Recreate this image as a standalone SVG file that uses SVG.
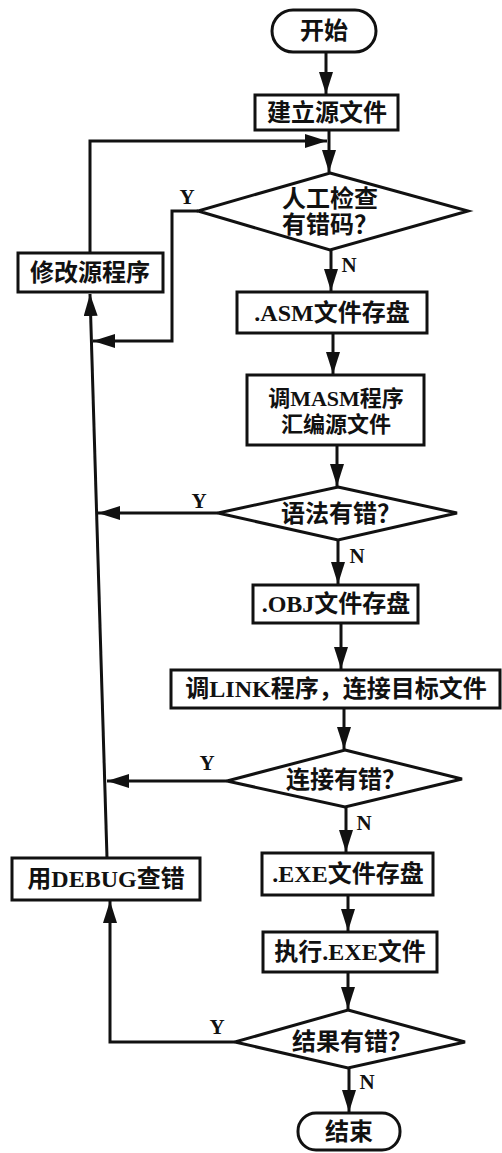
<svg xmlns="http://www.w3.org/2000/svg" width="502" height="1153" viewBox="0 0 502 1153">
<style>
.s{fill:#fff;stroke:#111;stroke-width:3}
.t{font-family:"Liberation Serif","Noto Sans CJK SC",serif;font-weight:700;font-size:24px;fill:#111;text-anchor:middle;dominant-baseline:central}
.m{font-size:22px}
.l{font-family:"Liberation Serif",serif;font-weight:700;font-size:21px;fill:#111;text-anchor:middle;dominant-baseline:central}
.c{fill:none;stroke:#111;stroke-width:3}
</style>
<defs>
<marker id="a" markerUnits="userSpaceOnUse" markerWidth="24" markerHeight="14" refX="22" refY="7" orient="auto">
<path d="M0,0 L22,7 L0,14 z" fill="#111"/>
</marker>
</defs>
<g id="connectors">
<line class="c" x1="326" y1="52" x2="326" y2="94" marker-end="url(#a)"/>
<line class="c" x1="329" y1="130" x2="329" y2="172" marker-end="url(#a)"/>
<polyline class="c" points="90,253 90,141 327,141" marker-end="url(#a)"/>
<polyline class="c" points="198,211 172,211 172,341 93,341" marker-end="url(#a)"/>
<line class="c" x1="331" y1="250" x2="331" y2="291" marker-end="url(#a)"/>
<line class="c" x1="333" y1="333" x2="333" y2="374" marker-end="url(#a)"/>
<line class="c" x1="337" y1="445" x2="337" y2="486" marker-end="url(#a)"/>
<line class="c" x1="338" y1="540" x2="338" y2="584" marker-end="url(#a)"/>
<line class="c" x1="341" y1="623" x2="341" y2="669" marker-end="url(#a)"/>
<line class="c" x1="344" y1="708" x2="344" y2="749" marker-end="url(#a)"/>
<line class="c" x1="346" y1="807" x2="346" y2="852" marker-end="url(#a)"/>
<line class="c" x1="348" y1="895" x2="348" y2="931" marker-end="url(#a)"/>
<line class="c" x1="348" y1="972" x2="348" y2="1009" marker-end="url(#a)"/>
<line class="c" x1="349" y1="1068" x2="349" y2="1112" marker-end="url(#a)"/>
<line class="c" x1="107" y1="858" x2="90" y2="294" marker-end="url(#a)"/>
<line class="c" x1="218" y1="513" x2="98" y2="513" marker-end="url(#a)"/>
<line class="c" x1="227" y1="781" x2="107" y2="781" marker-end="url(#a)"/>
<polyline class="c" points="235,1042 110,1042 110,901" marker-end="url(#a)"/>
<text class="l" x="187" y="197">Y</text>
<text class="l" x="349" y="265">N</text>
<text class="l" x="199" y="501">Y</text>
<text class="l" x="357" y="556">N</text>
<text class="l" x="207" y="763">Y</text>
<text class="l" x="364" y="823">N</text>
<text class="l" x="217" y="1027">Y</text>
<text class="l" x="367" y="1082">N</text>
</g>
<g id="start"><rect class="s" x="272" y="10" width="104" height="42" rx="21"/><text class="t" x="324" y="31">开始</text></g>
<g id="create"><rect class="s" x="255" y="95" width="143" height="35"/><text class="t" x="327" y="113">建立源文件</text></g>
<g id="check"><polygon class="s" points="330,173 468,211 330,250 198,211"/><text class="t" x="330" y="199">人工检查</text><text class="t" x="330" y="225">有错码？</text></g>
<g id="modify"><rect class="s" x="18" y="253" width="145" height="39"/><text class="t" x="90" y="273">修改源程序</text></g>
<g id="asm"><rect class="s" x="237" y="292" width="190" height="41"/><text class="t" x="332" y="313">.ASM文件存盘</text></g>
<g id="masm"><rect class="s" x="247" y="375" width="177" height="70"/><text class="t m" x="336" y="398">调MASM程序</text><text class="t m" x="336" y="424">汇编源文件</text></g>
<g id="syntax"><polygon class="s" points="338,487 457,513 338,540 218,513"/><text class="t" x="341" y="514">语法有错？</text></g>
<g id="obj"><rect class="s" x="253" y="585" width="165" height="38"/><text class="t" x="336" y="604">.OBJ文件存盘</text></g>
<g id="link"><rect class="s" x="171" y="670" width="329" height="38"/><text class="t" x="336" y="689">调LINK程序，连接目标文件</text></g>
<g id="linkerr"><polygon class="s" points="345,750 462,779 345,807 227,781"/><text class="t" x="346" y="780">连接有错？</text></g>
<g id="exe"><rect class="s" x="262" y="853" width="171" height="42"/><text class="t" x="348" y="874">.EXE文件存盘</text></g>
<g id="debug"><rect class="s" x="12" y="858" width="188" height="42"/><text class="t" x="106" y="879">用DEBUG查错</text></g>
<g id="run"><rect class="s" x="263" y="932" width="174" height="40"/><text class="t" x="350" y="952">执行.EXE文件</text></g>
<g id="result"><polygon class="s" points="348,1010 465,1042 348,1068 235,1042"/><text class="t" x="352" y="1042">结果有错？</text></g>
<g id="end"><rect class="s" x="298" y="1113" width="102" height="37" rx="18"/><text class="t" x="349" y="1132">结束</text></g>
</svg>
